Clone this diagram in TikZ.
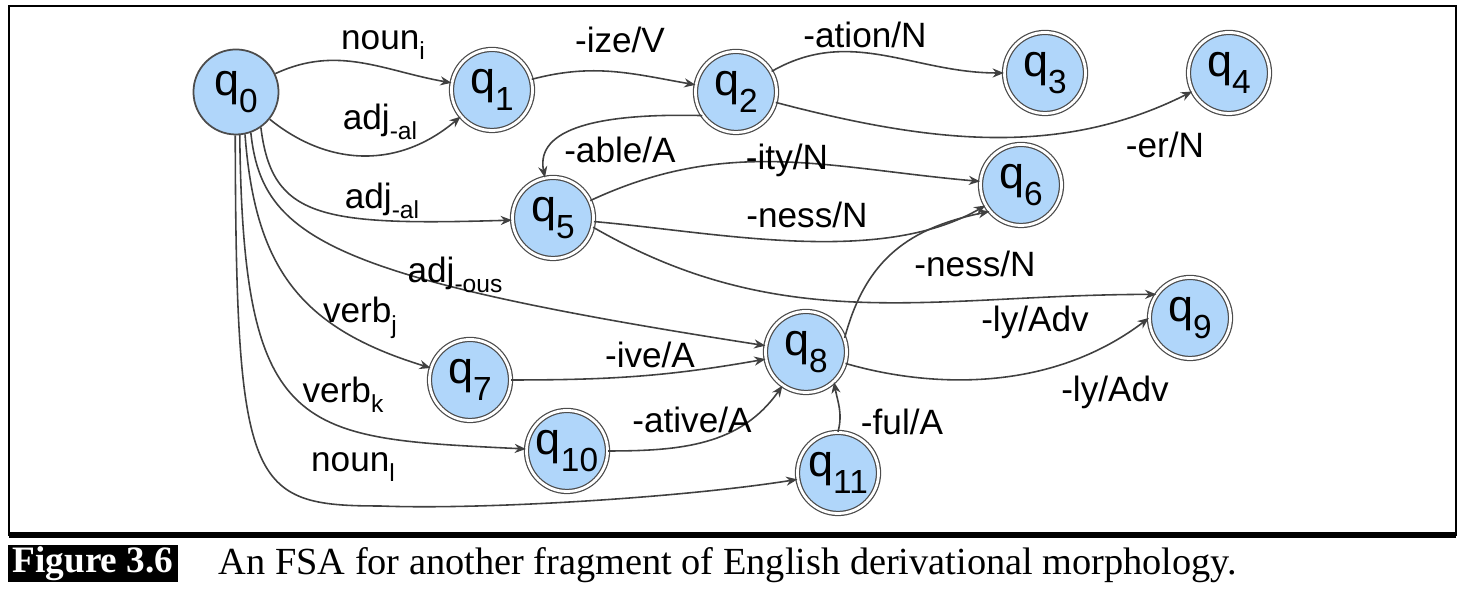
\documentclass[tikz,border=0pt]{standalone}
\usepackage{fontspec}
\setmainfont{Liberation Serif}
\newfontfamily\lsans{Liberation Sans}
\usetikzlibrary{arrows.meta}
\definecolor{qblue}{RGB}{176,214,250}
\newcommand{\qlab}[1]{q\raisebox{-5pt}{\fontsize{9.5}{10}\selectfont #1}}
\newcommand{\lsub}[1]{\raisebox{-3pt}{\fontsize{7}{8}\selectfont #1}}

\begin{document}
\begin{tikzpicture}[
        x=0.01cm, y=0.01cm,
        state/.style={circle, draw=black!70, fill=qblue, line width=0.5pt, minimum size=0.85cm, inner sep=0pt, font=\lsans\fontsize{12.8}{14}\selectfont},
        final/.style={state, line width=0.35pt, double=white, double distance=0.8pt, minimum size=0.81cm},
        tr/.style={-{Stealth[length=3.2pt,width=2.6pt]}, draw=black!75, line width=0.45pt},
        lbl/.style={inner sep=0pt, font=\lsans\fontsize{10}{12}\selectfont}
    ]
    \useasboundingbox (0,0) rectangle (1462,598);

    % Frame
    \draw[line width=0.8pt] (9,592) rectangle (1456,63);
    \draw[line width=1.6pt] (9,63) -- (1456,63);

    % States
    \node[state] (q0) at (236,506) {\qlab{0}};
    \node[final] (q1) at (492,508) {\qlab{1}};
    \node[final] (q2) at (736,506) {\qlab{2}};
    \node[final] (q3) at (1045,525) {\qlab{3}};
    \node[final] (q4) at (1229,525) {\qlab{4}};
    \node[final] (q5) at (553,380) {\qlab{5}};
    \node[final] (q6) at (1021,413) {\qlab{6}};
    \node[final] (q7) at (470,218) {\qlab{7}};
    \node[final] (q8) at (806,246) {\qlab{8}};
    \node[final] (q9) at (1190,280) {\qlab{9}};
    \node[final] (q10) at (567,147) {\qlab{10}};
    \node[final] (q11) at (838,125) {\qlab{11}};

    % Transitions
    \draw[tr] (q0) to[out=25, in=170] (q1);
    \draw[tr] (q0) .. controls (330,430) and (400,430) .. (q1);
    \draw[tr] (q1) to[out=15, in=170] (q2);
    \draw[tr] (q2) to[out=30, in=180] (q3);
    \draw[tr] (q2) .. controls (930,455) and (1060,440) .. (q4);
    \draw[tr] (q2.215) .. controls (600,485) and (535,470) .. (q5);
    \draw[tr] (q0.-55) .. controls (272,380) and (320,372) .. (q5.183);
    \draw[tr] (q5) to[out=25, in=175] (q6);
    \draw[tr] (q5) to[out=-5, in=210, looseness=0.8] (q6);
    \draw[tr] (q5.-13) to[out=-30, in=180] (q9.145);
    \draw[tr] (q0.-70) .. controls (262,360) and (330,320) .. (q8);
    \draw[tr] (q0.-78) .. controls (255,330) and (300,270) .. (q7);
    \draw[tr] (q0.-85) .. controls (243,160) and (300,160) .. (q10);
    \draw[tr] (q0.-91) .. controls (236,110) and (250,92) .. (380,92)
        .. controls (480,88) and (680,100) .. (q11);
    \draw[tr] (q7) to[out=0, in=190] (q8);
    \draw[tr] (q10) to[out=0, in=235] (q8);
    \draw[tr] (q11.90) to[out=75, in=-80] (q8.-47);
    \draw[tr] (q8.20) .. controls (866,340) and (910,370) .. (q6.220);
    \draw[tr] (q8) .. controls (930,210) and (1050,205) .. (q9.180);

    % Labels
    \node[lbl] (l01a) at (383,553) {noun\lsub{i}};
    \node[lbl] (l01b) at (380,476) {adj\lsub{-al}};
    \node[lbl] (l12) at (620,558) {-ize/V};
    \node[lbl] (l23) at (865,563) {-ation/N};
    \node[lbl] (l24) at (1165,453) {-er/N};
    \node[lbl] (l25) at (620,448) {-able/A};
    \node[lbl] (l56a) at (787,438) {-ity/N};
    \node[lbl] (l56b) at (807,383) {-ness/N};
    \node[lbl] (l05) at (382,397) {adj\lsub{-al}};
    \node[lbl] (l08) at (455,323) {adj\lsub{-ous}};
    \node[lbl] (l07) at (360,280) {verb\lsub{j}};
    \node[lbl] (l010) at (343,203) {verb\lsub{k}};
    \node[lbl] (l011) at (353,131) {noun\lsub{l}};
    \node[lbl] (l78) at (650,243) {-ive/A};
    \node[lbl] (l108) at (692,178) {-ative/A};
    \node[lbl] (l118) at (902,176) {-ful/A};
    \node[lbl] (l86) at (975,334) {-ness/N};
    \node[lbl] (l59) at (1035,276) {-ly/Adv};
    \node[lbl] (l89) at (1115,206) {-ly/Adv};

    % Caption
    \node[fill=black, text=white, inner sep=0pt, minimum width=1.7cm, minimum height=0.37cm,
        font=\bfseries\fontsize{10.6}{12}\selectfont] (fignum) at (93,34) {Figure 3.6};
    \node[anchor=west, inner sep=0pt, font=\fontsize{10.9}{12}\selectfont] (caption) at (218,33)
        {An FSA for another fragment of English derivational morphology.};
\end{tikzpicture}
\end{document}
